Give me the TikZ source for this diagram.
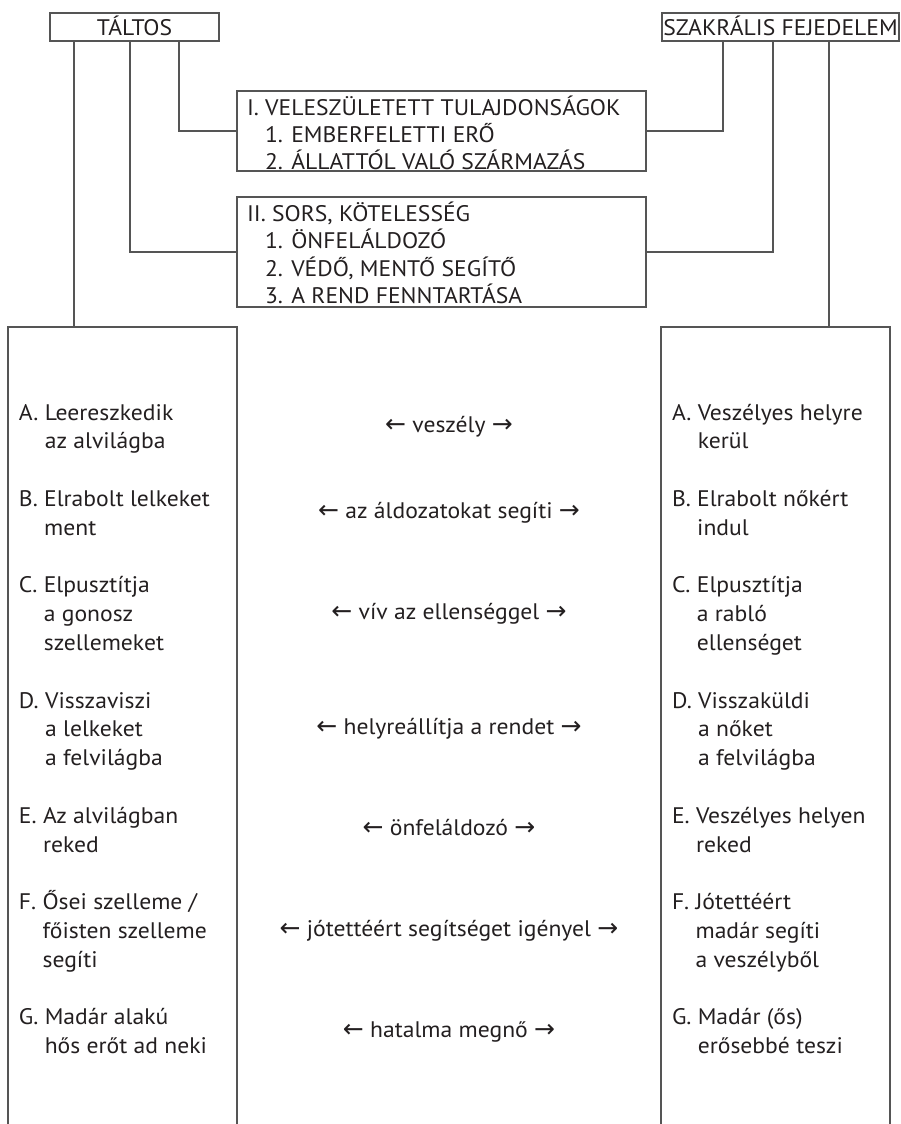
\documentclass[tikz,border=0pt]{standalone}
\usepackage{fontspec}
\setmainfont[FakeStretch=1.05]{PT Sans}
\newfontfamily\arrfont{DejaVu Sans}
\definecolor{ink}{HTML}{231F20}
\definecolor{ln}{HTML}{555555}
\newcommand\hdfont{\fontsize{22.5}{26.5}\selectfont}
\newcommand\colfont{\fontsize{22.5}{28.8}\selectfont}
\newcommand\grp[2]{\begin{tabular}[t]{@{}l@{\ }l@{}}#1 & #2\end{tabular}}
\newcommand\la{{\arrfont\fontsize{25}{25}\selectfont ←}}
\newcommand\ra{{\arrfont\fontsize{25}{25}\selectfont →}}
\begin{document}
\begin{tikzpicture}[x=1pt,y=-1pt,
  every node/.style={inner sep=0pt, outer sep=0pt, text=ink},
  frame/.style={draw=ln, line width=1.1pt},
  conn/.style={draw=ln, line width=1.1pt},
  hdbox/.style={frame, font=\hdfont, text height=23pt, text depth=5pt, anchor=north west},
  midbox/.style={frame, font=\hdfont, inner xsep=10pt, anchor=north west},
  colbox/.style={frame, minimum width=229pt, minimum height=830pt, anchor=north west},
  ctext/.style={font=\colfont, anchor=base west},
  mtext/.style={font=\colfont, anchor=base}]
\useasboundingbox (0,0) rectangle (901,1124);
\clip (0,0) rectangle (901,1124);

% header boxes
\node[hdbox, minimum width=169pt] (taltos) at (50,13) {TÁLTOS};
\node[hdbox, minimum width=237pt] (szak) at (662,13) {SZAKRÁLIS FEJEDELEM};

% middle boxes
\node[midbox, text height=24pt, text depth=56pt] (b1) at (237,91)
  {\makebox[389pt][l]{\begin{tabular}[t]{@{}l@{}}I. VELESZÜLETETT TULAJDONSÁGOK\\
   \hspace*{18pt}1. EMBERFELETTI ERŐ\\
   \hspace*{18pt}2. ÁLLATTÓL VALÓ SZÁRMAZÁS\end{tabular}}};
\node[midbox, text height=24pt, text depth=86pt] (b2) at (237,197)
  {\makebox[389pt][l]{\begin{tabular}[t]{@{}l@{}}II. SORS, KÖTELESSÉG\\
   \hspace*{18pt}1. ÖNFELÁLDOZÓ\\
   \hspace*{18pt}2. VÉDŐ, MENTŐ SEGÍTŐ\\
   \hspace*{18pt}3. A REND FENNTARTÁSA\end{tabular}}};

% columns
\node[colbox] (lcol) at (8,327) {};
\node[colbox] (rcol) at (661,327) {};

% connectors
\draw[conn] ([xshift=24pt]taltos.south west) -- ([xshift=24pt]taltos.south west |- lcol.north);
\draw[conn] ([xshift=80pt]taltos.south west) |- (b2.west);
\draw[conn] ([xshift=129pt]taltos.south west) |- (b1.west);
\draw[conn] ([xshift=61pt]szak.south west) |- (b1.east);
\draw[conn] ([xshift=111pt]szak.south west) |- (b2.east);
\draw[conn] ([xshift=167pt]szak.south west) -- ([xshift=167pt]szak.south west |- rcol.north);

% left column
\node[ctext] (lA) at (19,420)    {\grp{A.}{Leereszkedik\\ & az alvilágba}};
\node[ctext] (lB) at (19,506.4)  {\grp{B.}{Elrabolt lelkeket\\ & ment}};
\node[ctext] (lC) at (19,592.8)  {\grp{C.}{Elpusztítja\\ & a gonosz\\ & szellemeket}};
\node[ctext] (lD) at (19,708)    {\grp{D.}{Visszaviszi\\ & a lelkeket\\ & a felvilágba}};
\node[ctext] (lE) at (19,823.2)  {\grp{E.}{Az alvilágban\\ & reked}};
\node[ctext] (lF) at (19,909.6)  {\grp{F.}{Ősei szelleme /\\ & főisten szelleme\\ & segíti}};
\node[ctext] (lG) at (19,1024.8) {\grp{G.}{Madár alakú\\ & hős erőt ad neki}};

% right column
\node[ctext] (rA) at (672,420)    {\grp{A.}{Veszélyes helyre\\ & kerül}};
\node[ctext] (rB) at (672,506.4)  {\grp{B.}{Elrabolt nőkért\\ & indul}};
\node[ctext] (rC) at (672,592.8)  {\grp{C.}{Elpusztítja\\ & a rabló\\ & ellenséget}};
\node[ctext] (rD) at (672,708)    {\grp{D.}{Visszaküldi\\ & a nőket\\ & a felvilágba}};
\node[ctext] (rE) at (672,823.2)  {\grp{E.}{Veszélyes helyen\\ & reked}};
\node[ctext] (rF) at (672,909.6)  {\grp{F.}{Jótettéért\\ & madár segíti\\ & a veszélyből}};
\node[ctext] (rG) at (672,1024.8) {\grp{G.}{Madár (ős)\\ & erősebbé teszi}};

% middle labels
\node[mtext] (mA) at (449,432)  {\la\ veszély \ra};
\node[mtext] (mB) at (449,518)  {\la\ az áldozatokat segíti \ra};
\node[mtext] (mC) at (449,619)  {\la\ vív az ellenséggel \ra};
\node[mtext] (mD) at (449,734)  {\la\ helyreállítja a rendet \ra};
\node[mtext] (mE) at (449,835)  {\la\ önfeláldozó \ra};
\node[mtext] (mF) at (449,936)  {\la\ jótettéért segítséget igényel \ra};
\node[mtext] (mG) at (449,1037) {\la\ hatalma megnő \ra};
\end{tikzpicture}
\end{document}
